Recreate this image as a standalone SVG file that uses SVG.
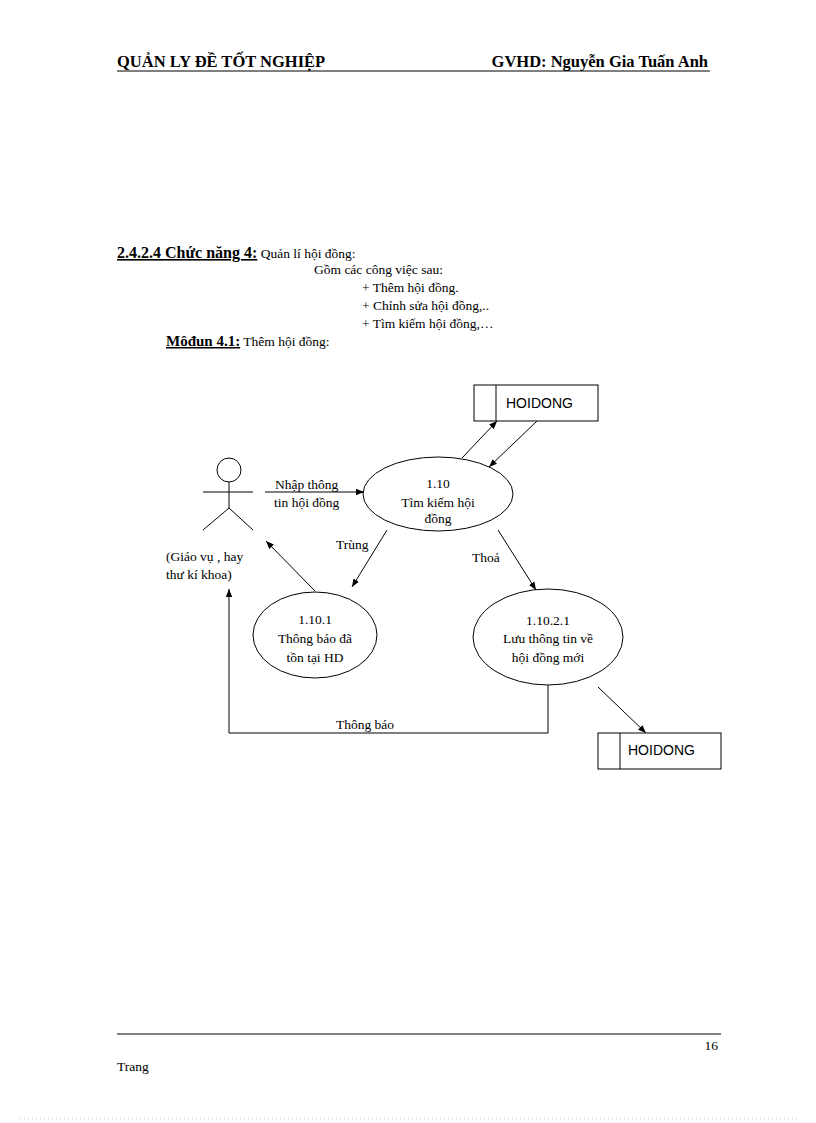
<svg xmlns="http://www.w3.org/2000/svg" width="816" height="1123" viewBox="0 0 816 1123">
<style>
text{font-family:"Liberation Serif",serif;font-size:13.5px;fill:#000}
.b{font-weight:bold}
.h{font-weight:bold;font-size:16.5px}
.s{font-family:"Liberation Sans",sans-serif;font-size:14px}
.m{text-anchor:middle}
.l{stroke:#000;stroke-width:1;fill:none}
</style>
<defs><marker id="a" viewBox="0 0 10 10" refX="10" refY="5" markerWidth="8" markerHeight="8" orient="auto"><path d="M0,1 L10,5 L0,9 z" fill="#000"/></marker></defs>
<rect width="816" height="1123" fill="#fff"/>
<text x="117" y="67" class="h">QUẢN LY ĐỀ TỐT NGHIỆP</text>
<text x="708" y="67" class="h" text-anchor="end">GVHD: Nguyễn Gia Tuấn Anh</text>
<line x1="117" y1="71" x2="710" y2="71" class="l"/>
<text x="117" y="258"><tspan class="b" style="font-size:16px" text-decoration="underline">2.4.2.4 Chức năng 4:</tspan> Quản lí hội đồng:</text>
<text x="314" y="274">Gồm các công việc sau:</text>
<text x="362" y="292">+ Thêm hội đồng.</text>
<text x="362" y="310">+ Chỉnh sửa hội đồng,..</text>
<text x="362" y="328">+ Tìm kiếm hội đồng,…</text>
<text x="166" y="346"><tspan class="b" style="font-size:15px" text-decoration="underline">Môđun 4.1:</tspan> Thêm hội đồng:</text>
<g id="store1"><rect x="474" y="385" width="124" height="36" class="l"/><line x1="496" y1="385" x2="496" y2="421" class="l"/><text x="506" y="408" class="s">HOIDONG</text></g>
<g id="actor" class="l"><circle cx="229" cy="470" r="12"/><line x1="229" y1="482" x2="229" y2="508"/><line x1="203" y1="492" x2="253" y2="492"/><path d="M203,530 L229,508 L253,530"/></g>
<text x="166" y="561">(Giáo vụ , hay</text><text x="166" y="579">thư kí khoa)</text>
<g id="p110"><ellipse cx="438" cy="494" rx="75" ry="37" class="l"/><text x="438" y="488" class="m">1.10</text><text x="438" y="507" class="m">Tìm kiếm hội</text><text x="438" y="523" class="m">đồng</text></g>
<g id="p1101"><ellipse cx="315" cy="635" rx="62" ry="43" class="l"/><text x="315" y="624" class="m">1.10.1</text><text x="315" y="643" class="m">Thông báo đã</text><text x="315" y="662" class="m">tồn tại HD</text></g>
<g id="p11021"><ellipse cx="548" cy="637" rx="75" ry="48" class="l"/><text x="548" y="625" class="m">1.10.2.1</text><text x="548" y="643" class="m">Lưu thông tin về</text><text x="548" y="662" class="m">hội đồng mới</text></g>
<g id="store2"><rect x="598" y="733" width="123" height="36" class="l"/><line x1="620" y1="733" x2="620" y2="769" class="l"/><text x="628" y="755" class="s">HOIDONG</text></g>
<g id="connectors" class="l" marker-end="url(#a)">
<line x1="265" y1="492" x2="364" y2="492"/>
<line x1="462" y1="458" x2="497" y2="421"/>
<line x1="537" y1="421" x2="489" y2="467"/>
<line x1="387" y1="530" x2="352" y2="587"/>
<line x1="498" y1="530" x2="536" y2="590"/>
<line x1="315" y1="591" x2="266" y2="541"/>
<path d="M548,685 L548,733 L229,733 L229,589"/>
<line x1="598" y1="687" x2="646" y2="733"/>
</g>
<text x="275" y="489">Nhập thông</text><text x="274" y="507">tin hội đồng</text>
<text x="336" y="549">Trùng</text><text x="472" y="562">Thoả</text>
<text x="336" y="729">Thông báo</text>
<line x1="117" y1="1034" x2="721" y2="1034" class="l"/>
<text x="718" y="1050" text-anchor="end">16</text>
<text x="117" y="1071">Trang</text>
<line x1="20" y1="1119" x2="800" y2="1119" stroke="#ccc" stroke-dasharray="1,3"/>
</svg>
